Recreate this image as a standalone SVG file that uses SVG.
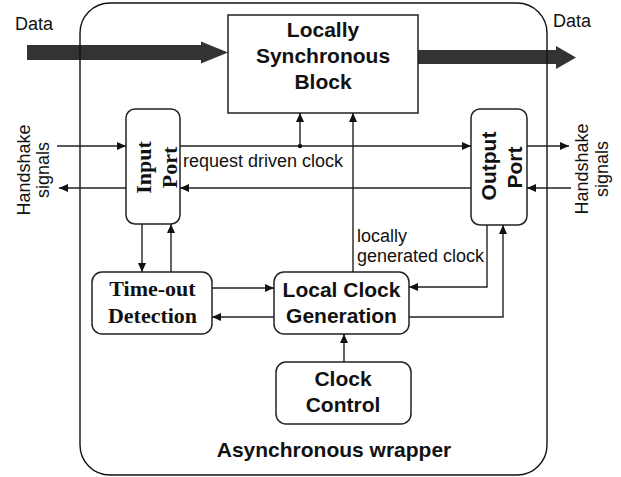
<svg xmlns="http://www.w3.org/2000/svg" width="621" height="477" viewBox="0 0 621 477">
<style>
.box{fill:#fff;stroke:#222;stroke-width:1.5}
.ln{fill:none;stroke:#222;stroke-width:1.4;marker-end:url(#ah)}
.bold{font-family:"Liberation Sans",Arial,sans-serif;font-weight:bold;font-size:21px;fill:#111;text-anchor:middle}
.tb{font-family:"Liberation Serif","Times New Roman",serif;font-weight:bold;font-size:22px;fill:#111;text-anchor:middle}
.nm{font-family:"Liberation Sans",Arial,sans-serif;font-size:18px;fill:#111}
.data{fill:#333}
</style>
<defs>
<marker id="ah" markerUnits="userSpaceOnUse" markerWidth="10" markerHeight="9" refX="9" refY="4" orient="auto">
<path d="M0,0 L9,4 L0,8 z" fill="#111"/>
</marker>
</defs>
<rect width="621" height="477" fill="#fff"/>
<g id="data-arrows">
<polygon class="data" points="27,45 201,45 201,41.5 228,52.5 201,63.5 201,60 27,60"/>
<polygon class="data" points="418,50 556,50 556,46 576,57.5 556,69 556,64 418,64"/>
</g>
<g id="wrapper">
<rect x="80" y="3" width="467" height="472" rx="30" ry="30" fill="none" stroke="#111" stroke-width="1.4"/>
<text class="bold" x="334" y="457">Asynchronous wrapper</text>
</g>
<g id="labels">
<text class="nm" x="15" y="30">Data</text>
<text class="nm" x="553" y="27">Data</text>
<text class="nm" text-anchor="middle" transform="translate(30,170) rotate(-90)">Handshake</text>
<text class="nm" text-anchor="middle" transform="translate(49,170) rotate(-90)">signals</text>
<text class="nm" text-anchor="middle" transform="translate(588,169) rotate(-90)">Handshake</text>
<text class="nm" text-anchor="middle" transform="translate(608,169) rotate(-90)">signals</text>
<text class="nm" x="183" y="167">request driven clock</text>
<text class="nm" x="357" y="242">locally</text>
<text class="nm" x="357" y="262">generated clock</text>
</g>
<g id="lsb">
<rect class="box" x="228" y="15" width="190" height="98"/>
<text class="bold" x="323" y="37">Locally</text>
<text class="bold" x="323" y="63">Synchronous</text>
<text class="bold" x="323" y="89">Block</text>
</g>
<g id="input-port">
<rect class="box" x="126" y="109" width="54" height="115" rx="9"/>
<text class="tb" transform="translate(151,167.5) rotate(-90)">Input</text>
<text class="tb" transform="translate(177,167.5) rotate(-90)">Port</text>
</g>
<g id="output-port">
<rect class="box" x="471" y="109" width="56" height="116" rx="9"/>
<text class="bold" transform="translate(496,166) rotate(-90)">Output</text>
<text class="bold" transform="translate(522,167.5) rotate(-90)">Port</text>
</g>
<g id="timeout">
<rect class="box" x="92" y="272" width="120" height="62" rx="10"/>
<text class="tb" x="152.5" y="296">Time-out</text>
<text class="tb" x="152.5" y="323">Detection</text>
</g>
<g id="lcg">
<rect class="box" x="274" y="272" width="135" height="62" rx="10"/>
<text class="bold" x="341.5" y="297">Local Clock</text>
<text class="bold" x="341.5" y="323">Generation</text>
</g>
<g id="clock-control">
<rect class="box" x="276" y="362" width="135" height="62" rx="10"/>
<text class="bold" x="343" y="386">Clock</text>
<text class="bold" x="343" y="412">Control</text>
</g>
<g id="connectors">
<path class="ln" d="M57,146 H126"/>
<path class="ln" d="M126,188 H59"/>
<path class="ln" d="M180,146 H471"/>
<circle cx="300" cy="146" r="2.2" fill="#111"/>
<path class="ln" d="M300,146 V113"/>
<path class="ln" d="M471,188 H180"/>
<path class="ln" d="M527,146 H569"/>
<path class="ln" d="M571,188 H527"/>
<path class="ln" d="M353,272 V113"/>
<path class="ln" d="M142,224 V272"/>
<path class="ln" d="M171,272 V224"/>
<path class="ln" d="M212,288 H274"/>
<path class="ln" d="M274,317 H212"/>
<path class="ln" d="M487,225 V287 H409"/>
<path class="ln" d="M409,317 H503 V225"/>
<path class="ln" d="M344,362 V334"/>
</g>
</svg>
